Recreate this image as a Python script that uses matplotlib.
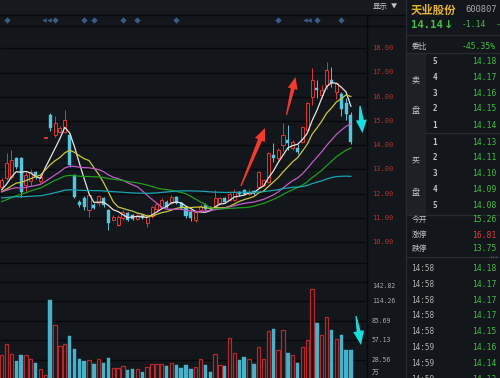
import matplotlib
matplotlib.use("Agg")
import matplotlib.pyplot as plt
import numpy as np
import pandas as pd
from matplotlib.lines import Line2D
from matplotlib.patches import Polygon, Rectangle

W, H = 500, 378

# ---------------- 日K数据 ----------------
opens = [12.28, 12.63, 12.69, 13.45, 13.45, 12.35, 12.5, 12.9, 12.5, 14.28,
         15.24, 14.42, 14.54, 14.55, 14.42, 12.76, 11.66, 11.81, 11.32, 11.52,
         11.6, 11.81, 11.32, 10.9, 10.7, 10.98, 11.2, 11.1, 10.95, 11.1,
         10.8, 11.05, 11.35, 11.45, 11.66, 11.6, 11.87, 11.6, 11.4, 11.25,
         10.9, 11.3, 11.52, 11.45, 11.45, 11.6, 11.8, 11.73, 11.75, 12.07,
         12.14, 12.0, 12.1, 12.28, 12.35, 12.49, 13.6, 13.46, 14.0, 14.21,
         13.87, 13.87, 14.14, 14.62, 16.0, 16.35, 16.07, 16.48, 16.69, 16.2,
         16.1, 15.75, 15.26]
highs = [12.65, 13.66, 13.8, 13.5, 13.5, 12.9, 13.0, 12.95, 12.8, 14.32,
         15.31, 15.2, 14.8, 15.45, 14.5, 12.8, 11.75, 11.9, 12.0, 11.6,
         11.95, 11.85, 11.35, 11.1, 11.1, 11.3, 11.25, 11.15, 11.15, 11.12,
         11.15, 11.5, 11.6, 11.8, 11.75, 11.95, 11.9, 11.65, 11.45, 11.3,
         11.3, 11.55, 11.6, 11.5, 12.14, 11.85, 11.85, 12.1, 12.2, 12.1,
         12.2, 12.2, 12.15, 12.95, 12.6, 13.7, 14.08, 13.9, 14.9, 14.85,
         14.2, 14.05, 14.8, 15.8, 17.17, 16.69, 16.5, 17.45, 17.24, 16.6,
         16.2, 15.95, 15.35]
lows = [12.2, 12.55, 12.6, 13.0, 11.87, 12.07, 12.3, 12.6, 12.45, 14.28,
        14.6, 14.35, 14.5, 14.5, 13.1, 11.8, 11.45, 11.3, 11.04, 11.35,
        11.5, 11.45, 10.5, 10.85, 10.65, 10.9, 10.85, 10.9, 10.9, 10.95,
        10.6, 11.0, 11.3, 11.4, 11.4, 11.55, 11.55, 11.35, 11.0, 10.85,
        10.83, 11.25, 11.3, 11.3, 11.4, 11.55, 11.6, 11.7, 11.7, 11.9,
        11.95, 11.95, 11.95, 12.2, 12.3, 12.45, 13.3, 13.4, 13.75, 13.8,
        13.8, 13.65, 14.1, 14.6, 15.66, 15.95, 15.95, 16.3, 16.4, 15.9,
        15.2, 15.05, 14.05]
closes = [12.57, 13.25, 13.38, 13.11, 12.07, 12.76, 12.9, 12.69, 12.7, 14.32,
          14.7, 14.91, 14.7, 15.04, 13.18, 11.87, 11.52, 11.45, 11.94, 11.4,
          11.9, 11.52, 10.77, 11.04, 11.04, 11.25, 10.9, 10.95, 11.1, 11.0,
          11.1, 11.45, 11.55, 11.75, 11.45, 11.87, 11.6, 11.4, 11.05, 10.98,
          11.25, 11.5, 11.35, 11.35, 11.8, 11.8, 11.65, 12.0, 12.05, 11.98,
          12.0, 12.08, 12.02, 12.9, 12.56, 13.66, 13.47, 13.8, 14.42, 14.07,
          14.14, 13.73, 14.76, 15.73, 16.69, 16.28, 16.28, 17.1, 16.55, 16.55,
          15.5, 15.28, 14.14]
# 成交量 (万手)
volumes = [34.7, 51.7, 36.6, 25.9, 35.6, 35.6, 28.8, 23.0, 15.0, 5.4,
           115.7, 79.5, 48.8, 50.8, 63.0, 43.9, 29.8, 26.8, 27.3, 21.5,
           29.8, 23.0, 30.7, 15.6, 15.6, 18.6, 13.7, 14.6, 14.6, 10.7,
           17.1, 22.4, 21.5, 22.4, 19.0, 23.4, 20.5, 15.6, 20.0, 14.2,
           17.6, 28.8, 20.0, 10.7, 36.6, 20.5, 18.6, 59.6, 38.5, 27.8,
           32.7, 28.8, 21.5, 47.3, 29.8, 69.8, 73.7, 42.9, 71.3, 38.5,
           35.6, 23.4, 46.4, 57.5, 131.3, 82.0, 64.9, 91.2, 71.7, 58.6,
           64.0, 42.9, 42.5]
# 窗口之前的收盘价, 只用来算均线
hist_close = [12.2, 12.1, 12.3, 12.4, 12.2, 12.0, 11.9, 12.1, 12.3, 12.2,
              12.0, 11.8, 11.9, 12.1, 12.2, 12.3, 12.1, 11.9, 11.8, 12.0,
              12.1, 11.9, 11.7, 11.8, 12.0, 11.9, 11.7, 11.5, 11.4, 11.2,
              11.0, 10.8, 10.6, 10.5, 10.7, 10.6, 10.8, 11.0, 11.2, 11.5,
              11.8, 12.1, 12.3, 12.4, 12.2, 12.1, 11.9, 11.8, 11.9, 12.0,
              12.2, 12.1, 11.9, 11.8, 12.0, 12.1, 11.9, 12.0, 12.2]

ma_windows = [5, 10, 20, 30, 60]
ma_colors = ['#e4e4e4', '#c8c83a', '#c45ac8', '#1f9e1f', '#1aa3b3']

price_ticks = [18, 17, 16, 15, 14, 13, 12, 11, 10]
vol_ticks = [142.82, 114.26, 85.69, 57.13, 28.56]

# 信息地雷
event_idx = [1, 11, 17, 19, 25, 28, 36, 57, 65, 70]
event_half_idx = [8.8, 9.8, 62.5, 63.4]

# 盘口
sell_levels = ['5', '4', '3', '2', '1']
sell_prices = [14.18, 14.17, 14.16, 14.15, 14.14]
buy_levels = ['1', '2', '3', '4', '5']
buy_prices = [14.13, 14.11, 14.10, 14.09, 14.08]
trade_times = ['14:58', '14:58', '14:58', '14:58', '14:58', '14:59', '14:59', '14:59']
trade_prices = [14.18, 14.17, 14.17, 14.17, 14.15, 14.16, 14.14, 14.13]

# ---------------- 样式 ----------------
BG = '#13161b'
GRID = '#07080a'
SEP = '#272b31'
RED = '#e0352e'
VRED = '#b8282a'
CYAN = '#56c6df'
VCYAN = '#46b2ca'
GREEN = '#3fbf3f'
TXT = '#c4c4c4'
CJK = ['Noto Sans CJK SC', 'DejaVu Sans']
MONO = 'DejaVu Sans Mono'


def fp(x, y):
    return x / W, 1 - y / H


fig = plt.figure(figsize=(5, 3.78), dpi=100, facecolor=BG)

PLOT_R = 366
X0 = -0.35
X1 = X0 + PLOT_R / 4.85

# 顶部条
fig.add_artist(Rectangle((0, 1 - 15.3 / H), 405.5 / W, 15.3 / H,
                         transform=fig.transFigure, color='#17191e', zorder=0))
for yy in [15.3, 25.5]:
    fig.add_artist(Line2D([0, 405.5 / W], [1 - yy / H] * 2, color=GRID, lw=1))
for yy in [262.7, 281.5]:
    fig.add_artist(Line2D([0, PLOT_R / W], [1 - yy / H] * 2, color=GRID, lw=1))
fig.add_artist(Line2D([(PLOT_R + 0.5) / W] * 2, [0, 1 - 15.3 / H], color=GRID, lw=1))

# ---------------- K线 ----------------
ax = fig.add_axes([0, 1 - 262.7 / H, PLOT_R / W, (262.7 - 25.5) / H])
ax.set_xlim(X0, X1)
ax.set_ylim(18 - (262.7 - 48.3) / 24.2, 18 + (48.3 - 25.5) / 24.2)
ax.axis('off')
ax.hlines(price_ticks, X0, X1, color=GRID, lw=1, zorder=0)

o = np.array(opens)
h = np.array(highs)
l = np.array(lows)
c = np.array(closes)
idx = np.arange(len(c))
up = c >= o
dn = ~up
lo = np.minimum(o, c)
hi = np.maximum(o, c)
bh = np.maximum(hi - lo, 0.03)

ax.vlines(idx[dn], l[dn], h[dn], color=CYAN, lw=0.7, zorder=2)
ax.bar(idx[dn], bh[dn], bottom=lo[dn], width=0.62, color=CYAN,
       edgecolor=CYAN, lw=0.3, zorder=3)
ax.vlines(idx[up], l[up], lo[up], color=RED, lw=0.7, zorder=2)
ax.vlines(idx[up], hi[up], h[up], color=RED, lw=0.7, zorder=2)
ax.bar(idx[up], bh[up], bottom=lo[up], width=0.62, facecolor=BG,
       edgecolor=RED, lw=0.7, zorder=3)

full = pd.Series(hist_close + closes)
for w, col in zip(ma_windows, ma_colors):
    ma = full.rolling(w).mean().iloc[len(hist_close):].to_numpy()
    ax.plot(idx, ma, color=col, lw=0.9, zorder=4)

for p in price_ticks:
    ax.text(372 / PLOT_R, p, f'{p:.2f}', transform=ax.get_yaxis_transform(),
            color='#b83232', fontsize=5, family=MONO, va='center', ha='left')

# 信息地雷条
bax = fig.add_axes([0, 1 - 25.5 / H, PLOT_R / W, (25.5 - 15.3) / H])
bax.set_xlim(X0, X1)
bax.set_ylim(0, 1)
bax.axis('off')
bax.plot(event_idx, [0.5] * len(event_idx), 'D', ms=3.2, color='#3a5d88', mec='none')
bax.plot(event_half_idx, [0.5] * len(event_half_idx), '<', ms=3.2, color='#3a5d88', mec='none')

# ---------------- 成交量 ----------------
vax = fig.add_axes([0, 0, PLOT_R / W, (H - 281.5) / H])
vax.set_xlim(X0, X1)
vax.set_ylim(1.46, 142.82)
vax.axis('off')
vax.hlines(vol_ticks[1:], X0, X1, color=GRID, lw=1, zorder=0)
v = np.array(volumes)
vax.bar(idx[dn], v[dn], width=0.7, color=VCYAN, edgecolor=VCYAN, lw=0.3, zorder=2)
vax.bar(idx[up], v[up], width=0.7, facecolor=BG, edgecolor=VRED, lw=0.9, zorder=2)

for i, t in enumerate(vol_ticks):
    vax.annotate(f'{t:.2f}', (372 / PLOT_R, t), xycoords=vax.get_yaxis_transform(),
                 xytext=(0, -2 if i == 0 else 0), textcoords='offset pixels',
                 color='#a8a8a8', fontsize=4.7, family=MONO,
                 va='top' if i == 0 else 'center', ha='left', annotation_clip=False)
fig.text(*fp(372, 373), '万', color='#a8a8a8', fontsize=5, family=CJK, va='center')


# ---------------- 箭头 ----------------
def arrow(tail, tip, shaft_w, head_w, head_len, color):
    tx, ty = tail
    dx, dy = tip[0] - tx, tip[1] - ty
    L = np.hypot(dx, dy)
    ux, uy = dx / L, dy / L
    nx, ny = -uy, ux
    base = L - head_len
    loc = [(0, -shaft_w * 0.15), (base, -shaft_w / 2), (base, -head_w / 2), (L, 0),
           (base, head_w / 2), (base, shaft_w / 2), (0, shaft_w * 0.15)]
    pts = [fp(tx + a * ux + b * nx, ty + a * uy + b * ny) for a, b in loc]
    fig.add_artist(Polygon(pts, closed=True, transform=fig.transFigure,
                           facecolor=color, edgecolor='none', zorder=10))


arrow((241, 186), (265, 128), 4.5, 11, 13, '#f23a2e')
arrow((286.5, 115), (295.5, 77), 4, 10, 12, '#f23a2e')
arrow((360, 106), (362.5, 133), 5, 11, 13, '#19dede')
arrow((356, 316), (361, 345), 4, 11, 14, '#19dede')

# ---------------- 右侧盘口 ----------------
fig.text(*fp(373, 7), '显示', color=TXT, fontsize=5.4, family=CJK, va='center')
fig.text(*fp(391, 7), '▼', color=TXT, fontsize=4.5, family=CJK, va='center')

fig.add_artist(Line2D([405.5 / W] * 2, [0, 1], color=SEP, lw=1))
fig.add_artist(Rectangle(fp(406, 215), 19 / W, (215 - 53.3) / H,
                         transform=fig.transFigure, color='#1d2025', zorder=0))
for yy, xa in [(35, 406), (53.3, 406), (133.3, 425), (215, 406), (257.3, 406)]:
    fig.add_artist(Line2D([xa / W, 1], [1 - yy / H] * 2, color=SEP, lw=1))

fig.text(*fp(411, 10), '天业股份', color='#e5b22f', fontsize=8.2, family=CJK,
         weight='bold', va='center')
fig.text(*fp(465, 10), '600807', color='#a8a8a8', fontsize=6.3, family=MONO, va='center')
fig.text(*fp(411, 24.5), '14.14', color=GREEN, fontsize=7.6, family=MONO,
         weight='bold', va='center')
fig.text(*fp(444, 24.5), '↓', color=GREEN, fontsize=8, family='DejaVu Sans',
         weight='bold', va='center')
fig.text(*fp(462, 24.5), '-1.14', color=GREEN, fontsize=5.8, family=MONO, va='center')
fig.text(*fp(496, 24.5), '-7.46%', color=GREEN, fontsize=5.8, family=MONO, va='center')

fig.text(*fp(412, 46.5), '委比', color=TXT, fontsize=5.6, family=CJK, va='center')
fig.text(*fp(496, 46.5), '-45.35%', color=GREEN, fontsize=5.8, family=MONO,
         va='center', ha='right')

for s, yy in [('卖', 80), ('盘', 110), ('买', 160), ('盘', 192)]:
    fig.text(*fp(415.5, yy), s, color=TXT, fontsize=5.8, family=CJK, va='center', ha='center')

sell_y = [61, 77.7, 93.3, 108.3, 125]
buy_y = [142.7, 157.7, 173.3, 189, 205]
for lv, pr, yy in zip(sell_levels + buy_levels, sell_prices + buy_prices, sell_y + buy_y):
    fig.text(*fp(435, yy), lv, color=TXT, fontsize=5.5, family=MONO,
             weight='bold', va='center', ha='center')
    fig.text(*fp(496, yy), f'{pr:.2f}', color=GREEN, fontsize=5.8, family=MONO,
             va='center', ha='right')

for lab, val, col, yy in [('今开', 15.26, GREEN, 220), ('涨停', 16.81, '#e03c3c', 235),
                          ('跌停', 13.75, GREEN, 248.5)]:
    fig.text(*fp(412, yy), lab, color=TXT, fontsize=5.6, family=CJK, va='center')
    fig.text(*fp(496, yy), f'{val:.2f}', color=col, fontsize=5.8, family=MONO,
             va='center', ha='right')

fig.text(*fp(498, 257), '•••', color='#3a6ea5', fontsize=3.5, family='DejaVu Sans',
         va='center', ha='right')

for i, (tm, pr) in enumerate(zip(trade_times, trade_prices)):
    yy = 268.3 + i * 15.9
    fig.text(*fp(411.5, yy), tm, color='#b0b0b0', fontsize=5.6, family=MONO, va='center')
    fig.text(*fp(496.5, yy), f'{pr:.2f}', color=GREEN, fontsize=5.8, family=MONO,
             va='center', ha='right')

fig.savefig('out.png', dpi=100, facecolor=BG)
